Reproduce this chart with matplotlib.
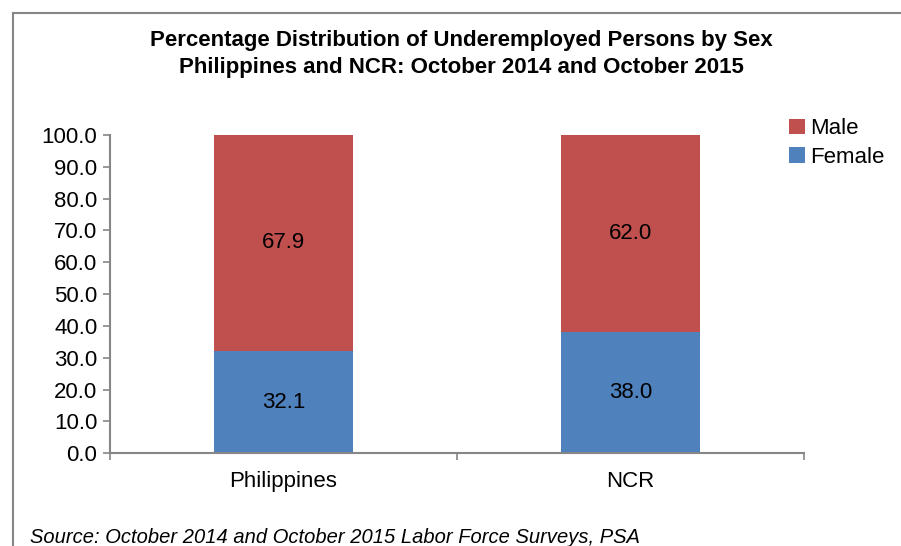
import numpy as np
import matplotlib.pyplot as plt
from matplotlib.lines import Line2D

# data
regions = ["Philippines", "NCR"]
female = [32.1, 38.0]
male = [67.9, 62.0]
y_ticks = [0, 10, 20, 30, 40, 50, 60, 70, 80, 90, 100]

RED = "#C0504D"
BLUE = "#4F81BD"
GRAY = "#868686"

plt.rcParams["font.family"] = ["Liberation Sans", "DejaVu Sans"]

fig = plt.figure(figsize=(9.01, 5.46), dpi=100)
ax = fig.add_axes([0.122, 0.170, 0.770, 0.583])

x = np.arange(len(regions))
ax.bar(x, female, width=0.4, color=BLUE, label="Female", zorder=2)
ax.bar(x, male, width=0.4, bottom=female, color=RED, label="Male", zorder=2)

# value labels centred in each segment
for i in range(len(regions)):
    ax.text(x[i], female[i] / 2, f"{female[i]:.1f}", ha="center", va="center", fontsize=16)
    ax.text(x[i], female[i] + male[i] / 2, f"{male[i]:.1f}", ha="center", va="center", fontsize=16)

ax.set_xlim(-0.5, len(regions) - 0.5)
ax.set_ylim(0, 100)
ax.set_yticks(y_ticks)
ax.set_yticklabels([f"{v:.1f}" for v in y_ticks], fontsize=16)
ax.set_xticks(x)
ax.set_xticklabels(regions, fontsize=16)
ax.set_xticks(np.arange(-0.5, len(regions), 1.0), minor=True)
ax.tick_params(axis="x", which="major", length=0, pad=13)
ax.tick_params(axis="x", which="minor", length=5, color=GRAY, width=1.2)
ax.tick_params(axis="y", length=5, color=GRAY, width=1.2, pad=4)

for side in ["top", "right"]:
    ax.spines[side].set_visible(False)
for side in ["left", "bottom"]:
    ax.spines[side].set_color(GRAY)
    ax.spines[side].set_linewidth(1.5)

# legend: Male above Female
handles, labels = ax.get_legend_handles_labels()
fig.legend(handles[::-1], labels[::-1], loc="upper left", bbox_to_anchor=(0.866, 0.8),
           frameon=False, fontsize=16, handlelength=0.7, handleheight=0.7,
           handletextpad=0.25, labelspacing=0.35, borderaxespad=0)

fig.text(0.512, 0.925, "Percentage Distribution of Underemployed Persons by Sex",
         ha="center", va="center", fontsize=16, fontweight="bold")
fig.text(0.512, 0.877, "Philippines and NCR: October 2014 and October 2015",
         ha="center", va="center", fontsize=16, fontweight="bold")

fig.text(0.033, 0.016, "Source: October 2014 and October 2015 Labor Force Surveys, PSA",
         ha="left", va="center", fontsize=14.5, style="italic")

# partial outer frame (top and left edges)
fig.add_artist(Line2D([0.0145, 1.0], [0.976, 0.976], color=GRAY, lw=1.5, transform=fig.transFigure))
fig.add_artist(Line2D([0.0145, 0.0145], [0.0, 0.976], color=GRAY, lw=1.5, transform=fig.transFigure))

fig.savefig("out.png", dpi=100)
